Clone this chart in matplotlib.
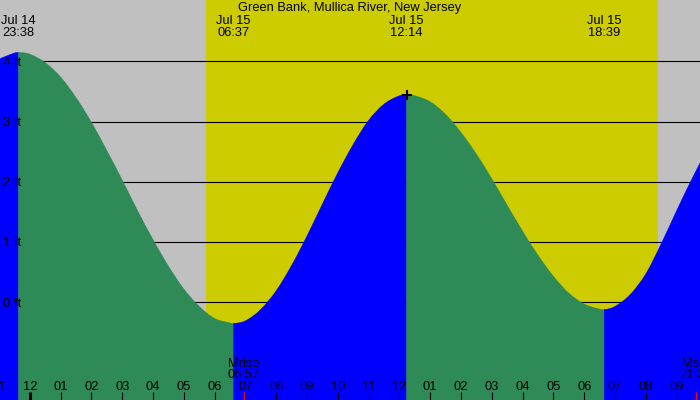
import matplotlib.pyplot as plt
from matplotlib.path import Path
from matplotlib.patches import PathPatch

# hours relative to midnight Jul 15
tide_hours = [-1.0, -0.5, -0.367, 0.0, 0.5, 1.0, 1.5, 2.0, 2.5, 3.0, 3.5, 4.0, 4.5,
              5.0, 5.5, 6.0, 6.5, 6.617, 7.0, 7.5, 8.0, 8.5, 9.0, 9.5, 10.0, 10.5,
              11.0, 11.5, 12.0, 12.233, 12.5, 13.0, 13.5, 14.0, 14.5, 15.0, 15.5,
              16.0, 16.5, 17.0, 17.5, 18.0, 18.5, 18.65, 19.0, 19.5, 20.0, 20.5,
              21.0, 21.5, 22.0]
tide_feet = [4.04, 4.14, 4.15, 4.12, 3.98, 3.74, 3.40, 2.99, 2.52, 2.03, 1.52, 1.04, 0.60,
             0.22, -0.07, -0.27, -0.345, -0.35, -0.31, -0.12, 0.19, 0.61, 1.10, 1.63, 2.15, 2.62,
             3.02, 3.29, 3.43, 3.45, 3.43, 3.33, 3.12, 2.82, 2.46, 2.05, 1.61,
             1.18, 0.78, 0.43, 0.15, -0.03, -0.115, -0.12, -0.07, 0.13, 0.47, 0.97,
             1.52, 2.05, 2.55]

extreme_hours = [-0.367, 6.617, 12.233, 18.65]
extreme_dates = ["Jul 14", "Jul 15", "Jul 15", "Jul 15"]
extreme_times = ["23:38", "06:37", "12:14", "18:39"]

sunrise, sunset = 5.71, 20.40
moon_hours = [6.95, 21.62]
moon_labels = [("Mrise", "06:57"), ("Mset", "21:37")]

level_lines = [0, 1, 2, 3, 4]
hour_ticks = list(range(-1, 22))

title = "Green Bank, Mullica River, New Jersey"

W, H = 700, 400
plt.rcParams["font.family"] = ["Liberation Sans", "DejaVu Sans"]
fs = 9.3
ymin, ymax = -1.625, 5.02

fig = plt.figure(figsize=(7, 4), dpi=100)
ax = fig.add_axes([0, 0, 1, 1])
ax.set_xlim(-0.9675, 21.76)
ax.set_ylim(ymin, ymax)
ax.axis("off")
ax.add_patch(plt.Rectangle((0, 0), 1, 1, transform=ax.transAxes, color="#c0c0c0", zorder=0))
ax.axvspan(sunrise, sunset, color="#cccc00", lw=0, zorder=1)

for lv in level_lines:
    ax.axhline(lv, color="black", lw=0.8, zorder=2)

# slopes for a smooth bezier through the read points, flat at high/low water
n = len(tide_hours)
ext_idx = [tide_hours.index(t) for t in extreme_hours]
slopes = []
for i in range(n):
    if i in ext_idx:
        slopes.append(0.0)
    else:
        a, b = max(i - 1, 0), min(i + 1, n - 1)
        slopes.append((tide_feet[b] - tide_feet[a]) / (tide_hours[b] - tide_hours[a]))


def tide_patch(a, b, color):
    verts = [(tide_hours[a], ymin - 1), (tide_hours[a], tide_feet[a])]
    codes = [Path.MOVETO, Path.LINETO]
    for i in range(a, b):
        x0, x1 = tide_hours[i], tide_hours[i + 1]
        y0, y1 = tide_feet[i], tide_feet[i + 1]
        d = (x1 - x0) / 3
        verts += [(x0 + d, y0 + slopes[i] * d), (x1 - d, y1 - slopes[i + 1] * d), (x1, y1)]
        codes += [Path.CURVE4] * 3
    verts += [(tide_hours[b], ymin - 1), (tide_hours[a], ymin - 1)]
    codes += [Path.LINETO, Path.CLOSEPOLY]
    return PathPatch(Path(verts, codes), facecolor=color, edgecolor=color, lw=0.3, zorder=3)


# green while falling, blue while rising
bounds = [0] + ext_idx + [n - 1]
for a, b in zip(bounds[:-1], bounds[1:]):
    color = "#0000ff" if tide_feet[b] > tide_feet[a] else "#2e8b57"
    ax.add_patch(tide_patch(a, b, color))

top = ax.get_xaxis_transform()


def ypx(p):
    return 1 - p / H


for lv in level_lines:
    y = 1 - (ymax - lv) / (ymax - ymin) - 4.5 / H
    ax.text(3 / W, y, f"{lv} ft", transform=ax.transAxes, fontsize=fs,
            va="baseline", ha="left", zorder=5)

ax.text(0.5, ypx(11), title, transform=ax.transAxes, fontsize=fs, ha="center", va="baseline", zorder=5)
for t, d, s in zip(extreme_hours, extreme_dates, extreme_times):
    ax.text(t, ypx(24), d, transform=top, fontsize=fs, ha="center", va="baseline", zorder=5)
    ax.text(t, ypx(36), s, transform=top, fontsize=fs, ha="center", va="baseline", zorder=5)

ax.plot(extreme_hours[2], tide_feet[ext_idx[2]], marker="+", color="black",
        ms=7, mew=1.5, zorder=6)

for h in hour_ticks:
    lab = f"{(h % 12) or 12:02d}"
    ax.text(h, ypx(390), lab, transform=top, fontsize=fs, ha="center", va="baseline", zorder=5)
    lw = 2.2 if h % 24 == 0 else 0.8
    ax.plot([h, h], [ypx(392), ypx(400)], transform=top, color="black", lw=lw,
            solid_capstyle="butt", zorder=5)

for t, (a, b) in zip(moon_hours, moon_labels):
    ax.text(t, ypx(367), a, transform=top, fontsize=fs, ha="center", va="baseline", zorder=5)
    ax.text(t, ypx(378), b, transform=top, fontsize=fs, ha="center", va="baseline", zorder=5)
    ax.plot([t, t], [ypx(392), ypx(400)], transform=top, color="red", lw=0.8,
            solid_capstyle="butt", zorder=5)

fig.savefig("out.png", dpi=100)
